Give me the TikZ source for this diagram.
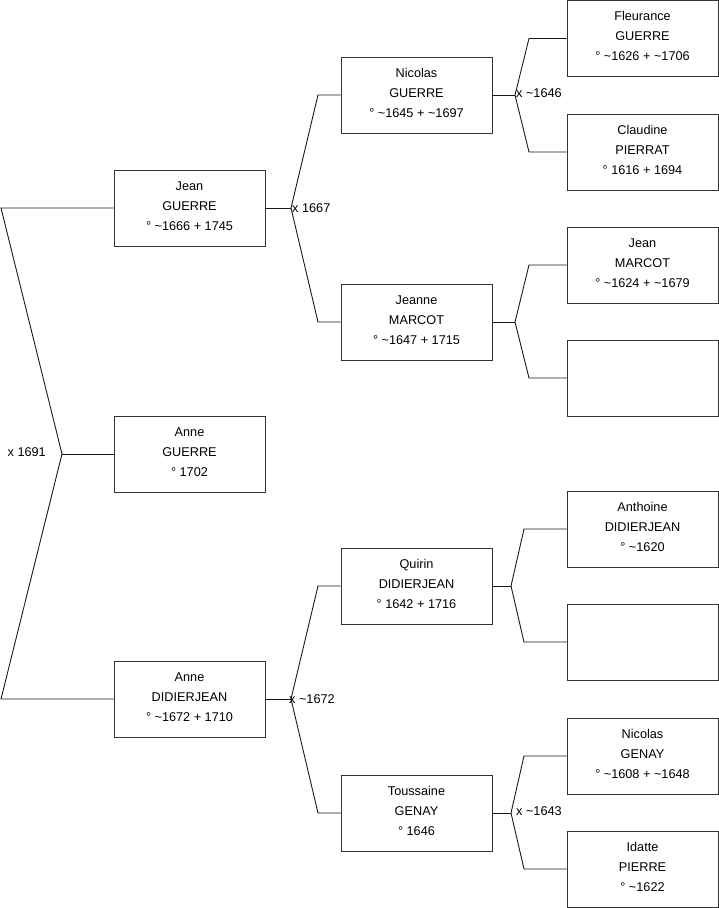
\documentclass[tikz,border=0pt]{standalone}
\usepackage{fontspec}
\setmainfont{Liberation Sans}
\begin{document}
\begin{tikzpicture}[x=1pt,y=-1pt,
  person/.style={draw=black!80,line width=0.9pt,minimum width=151pt,minimum height=76pt,inner sep=0pt,align=center,text depth=4.4pt,font=\fontsize{12.7}{20}\selectfont},
  link/.style={draw=black!90,line width=0.9pt},
  marr/.style={font=\fontsize{12.7}{14}\selectfont,inner sep=0pt}]
\useasboundingbox (0,0) rectangle (719,908);
% generation 1
\node[person] (jg) at (189.5,208) {Jean\\GUERRE\\° \textasciitilde1666 + 1745};
\node[person] (ag) at (189.5,454) {Anne\\GUERRE\\° 1702};
\node[person] (ad) at (189.5,699) {Anne\\DIDIERJEAN\\° \textasciitilde1672 + 1710};
% generation 2
\node[person] (ng) at (416.5,95) {Nicolas\\GUERRE\\° \textasciitilde1645 + \textasciitilde1697};
\node[person] (jm) at (416.5,322) {Jeanne\\MARCOT\\° \textasciitilde1647 + 1715};
\node[person] (qd) at (416.5,586) {Quirin\\DIDIERJEAN\\° 1642 + 1716};
\node[person] (tg) at (416.5,813) {Toussaine\\GENAY\\° 1646};
% generation 3
\node[person] (fg) at (642.5,38.5) {Fleurance\\GUERRE\\° \textasciitilde1626 + \textasciitilde1706};
\node[person] (cp) at (642.5,152) {Claudine\\PIERRAT\\° 1616 + 1694};
\node[person] (jmc) at (642.5,265) {Jean\\MARCOT\\° \textasciitilde1624 + \textasciitilde1679};
\node[person] (e1) at (642.5,378) {};
\node[person] (adj) at (642.5,529) {Anthoine\\DIDIERJEAN\\° \textasciitilde1620};
\node[person] (e2) at (642.5,642) {};
\node[person] (ngy) at (642.5,756) {Nicolas\\GENAY\\° \textasciitilde1608 + \textasciitilde1648};
\node[person] (ip) at (642.5,869) {Idatte\\PIERRE\\° \textasciitilde1622};
% junctions
\coordinate (j0) at (62,454);
\coordinate (l0a) at (1,208);
\coordinate (l0b) at (1,699);
\coordinate (j1) at (291,208);
\coordinate (j1a) at (318,95);
\coordinate (j1b) at (318,322);
\coordinate (j2) at (291,699);
\coordinate (j2a) at (318,586);
\coordinate (j2b) at (318,813);
\coordinate (j3) at (515,95);
\coordinate (j3a) at (529,38.5);
\coordinate (j3b) at (529,152);
\coordinate (j4) at (515,322);
\coordinate (j4a) at (529,265);
\coordinate (j4b) at (529,378);
\coordinate (j5) at (511,586);
\coordinate (j5a) at (524,529);
\coordinate (j5b) at (524,642);
\coordinate (j6) at (511,813);
\coordinate (j6a) at (524,756);
\coordinate (j6b) at (524,869);
% connectors
\draw[link] (jg.west) -- (l0a) -- (j0) -- (l0b) -- (ad.west);
\draw[link] (j0) -- (ag.west);
\draw[link] (jg.east) -- (j1);
\draw[link] (ng.west) -- (j1a) -- (j1) -- (j1b) -- (jm.west);
\draw[link] (ad.east) -- (j2);
\draw[link] (qd.west) -- (j2a) -- (j2) -- (j2b) -- (tg.west);
\draw[link] (ng.east) -- (j3);
\draw[link] (fg.west) -- (j3a) -- (j3) -- (j3b) -- (cp.west);
\draw[link] (jm.east) -- (j4);
\draw[link] (jmc.west) -- (j4a) -- (j4) -- (j4b) -- (e1.west);
\draw[link] (qd.east) -- (j5);
\draw[link] (adj.west) -- (j5a) -- (j5) -- (j5b) -- (e2.west);
\draw[link] (tg.east) -- (j6);
\draw[link] (ngy.west) -- (j6a) -- (j6) -- (j6b) -- (ip.west);
% marriage labels
\node[marr,anchor=east] (m0) at (46,452) {x 1691};
\node[marr,anchor=west] (m1) at (292,208) {x 1667};
\node[marr,anchor=west] (m2) at (289,699) {x \textasciitilde1672};
\node[marr,anchor=west] (m3) at (516,93) {x \textasciitilde1646};
\node[marr,anchor=west] (m6) at (516,811) {x \textasciitilde1643};
\end{tikzpicture}
\end{document}
